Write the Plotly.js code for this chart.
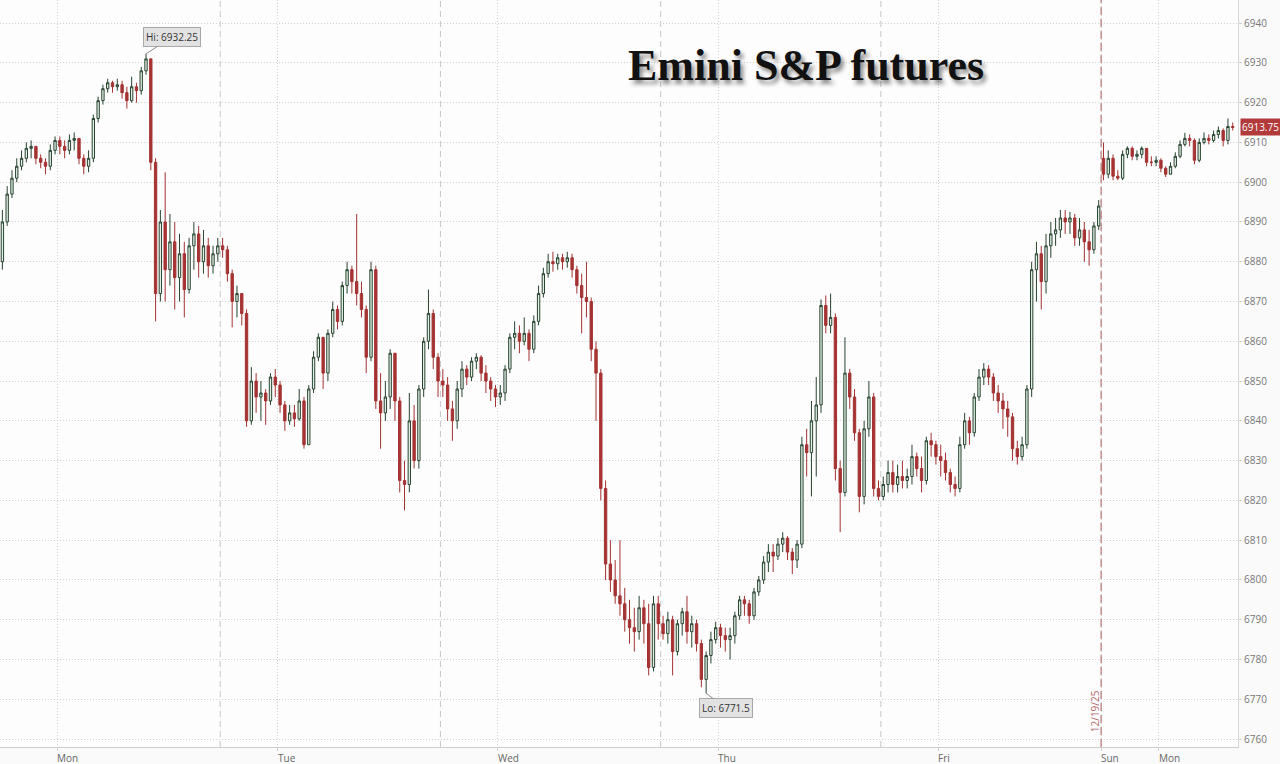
<!DOCTYPE html>
<html>
<head>
<meta charset="utf-8">
<script src="https://cdn.plot.ly/plotly-3.0.1.min.js"></script>
<style>
  html, body { margin: 0; padding: 0; background: #fafafa; }
  #chart { width: 1280px; height: 764px; }
</style>
</head>
<body>
<div id="chart"></div>
<script>
// ---- Data: 30-minute bars, Emini S&P futures (open = previous close) ----
const firstOpen = 6880;      // first bar open
const sundayOpen = 6906;     // gap open of the Sunday evening session

// Session 1 (Sun eve -> Mon)
const closeS1 = [6890,6897,6901,6904,6906,6908.5,6909,6906,6905,6904,6908,6910.5,6909,6908,6910.5,6911,6906,6904,6906,6916,6920.5,6923.5,6925,6924,6924.5,6922.5,6920.5,6924,6923,6928,6931,6905,6872,6890,6878,6885,6876,6882,6873,6884,6887,6880,6884,6879,6882,6884];
const highS1  = [6893,6899,6903,6906,6908,6910,6910.5,6909,6907,6906,6909.5,6911.5,6911.5,6910.5,6912,6912.5,6911,6907,6908,6917,6921.5,6924.5,6926,6925.5,6926,6925.5,6924,6926.5,6925,6929,6932.25,6931,6906,6893,6902.5,6892,6890,6887,6885,6886,6890,6889,6888,6886,6884,6886];
const lowS1   = [6878,6889,6896,6900,6903,6905,6906,6904.5,6903.5,6902,6903,6907,6907,6906,6907,6908,6904.5,6902,6902.5,6905,6915,6919.5,6922.5,6922.5,6923,6921,6918.5,6920,6920,6922,6927,6903,6865,6870,6870,6874,6868,6870,6866,6872,6878,6876,6877,6876,6877,6880];

// Session 2 (Tue)
const closeS2 = [6883,6877,6870,6872,6867,6840,6850,6846,6847,6845,6851,6849,6844,6840,6842,6840.5,6845,6834,6848,6856,6861,6852,6862,6868,6865,6874,6878,6875,6872,6868,6856,6878,6845,6842,6846,6857,6845,6825,6824,6840,6830,6848,6860,6867,6856,6850];
const highS2  = [6886,6884,6878,6874,6872,6868,6853.5,6852,6850,6848,6852,6853,6850,6845,6844,6844,6848,6846,6849,6857.5,6862,6861,6863,6870,6869,6875,6880,6879,6892,6875,6869,6880,6879,6852,6850,6858,6857,6846,6830,6847,6844,6849,6861,6873,6868,6857];
const lowS2   = [6881,6875,6863.5,6866,6864,6838.5,6839,6842,6840,6839,6844,6846,6842,6837.5,6839,6838.5,6840,6833,6834,6847,6855,6848,6850,6861,6863,6864,6872,6872,6869,6866,6852,6855,6843,6833,6840,6843,6840,6822,6817.5,6822,6828,6828,6846,6858,6853,6846];

// Session 3 (Wed)
const closeS3 = [6849,6843,6840,6848,6853,6851,6855,6856,6852,6850,6848,6846,6847,6853,6861,6862,6860,6862,6858,6865,6872,6877,6880,6879.5,6881,6880,6881,6878,6874,6871,6870,6858,6852,6823,6804,6800,6796,6794,6790,6788,6787,6793,6789,6778,6794,6789];
const highS3  = [6853,6851,6845,6850,6855,6854,6856,6857,6856.5,6854,6851,6849,6849,6854,6862,6865,6864,6866,6863,6866.5,6874,6878.5,6882,6882.5,6882,6882,6882.5,6882,6879,6877,6880,6871,6860,6853,6825,6810,6805,6810,6798,6795,6793,6796,6795,6794,6796,6796];
const lowS3   = [6846,6840,6835,6838,6846,6849,6850,6853,6850,6847,6845,6843.5,6844,6845,6852,6858,6857,6859,6855,6857,6864,6871,6876,6877.5,6878,6878,6878.5,6876,6872,6862,6866,6855,6840,6820,6800,6797,6794,6791,6787,6784,6782,6785,6784,6776,6777,6785];

// Session 4 (Thu)
const closeS4 = [6786.5,6790,6782,6789,6792,6787,6789,6784,6775,6781,6785,6788,6786,6785,6786,6791,6795,6794,6791,6797,6800,6804.5,6807,6806,6809,6810.5,6807,6805,6809,6834,6832,6840,6844,6869,6864,6866,6828,6822,6852,6846,6837,6821,6838,6846,6823,6821];
const highS4  = [6791,6792,6791,6790,6793,6796,6791,6790,6785,6782,6787,6789.5,6789,6788,6788,6792,6796,6796,6795,6798,6801,6806,6809,6809,6810.5,6812,6811,6808,6810,6836,6838,6845,6851,6870.5,6871.5,6872,6867,6830,6861,6853,6848,6838,6840,6850,6847,6825];
const lowS4   = [6785,6784,6776,6781,6786,6784,6783,6782,6773,6771.5,6779,6784,6783,6782,6780,6784,6790,6791,6789,6790,6796,6799,6802,6802,6805,6807,6805,6801.5,6803,6808,6826,6821,6826,6842,6862,6862,6825,6812,6821,6843,6835,6817,6819,6836,6821,6820];

// Session 5 (Fri)
const closeS5 = [6824,6827,6824,6826,6825,6826,6831,6828,6825,6835,6834,6831,6830,6827,6824,6823,6834,6840,6837,6846,6851,6853,6851,6847,6845,6843,6841,6833,6831,6834,6848,6878,6882,6875,6884,6887,6888,6891,6890,6891,6886,6888,6885,6883,6889,6894];
const highS5  = [6826,6830,6830,6829,6830,6828,6834,6832,6831,6836,6837,6835,6834,6832,6828,6826,6836,6842,6841,6847,6853,6854.5,6854,6852,6849,6847,6845,6842,6835,6836,6849,6880,6885,6884,6887,6890,6891,6893,6893,6892.5,6892,6891,6890,6888,6890,6895.5];
const lowS5   = [6820,6822,6822,6822,6823,6823,6824,6826,6822,6824,6831,6829,6826,6825,6822,6821,6822,6833,6834,6836,6845,6849,6849,6845,6842,6838,6836,6830,6829,6830,6833,6846,6870,6868,6872,6881,6884,6886,6887,6887,6884,6884,6880,6879,6882,6888];

// Session 6 (Sun eve -> Mon, 12/21/25)
const closeS6 = [6902,6906,6901.5,6901,6907,6908.5,6906.5,6907,6908.5,6905,6905,6905.5,6903.5,6902,6904,6906.5,6909.5,6911,6910.5,6905.5,6910,6911,6910.5,6912,6913,6910.5,6914,6913.75];
const highS6  = [6910,6908,6907,6903,6908,6909,6909,6908,6909,6908.5,6906.5,6906.5,6906,6904,6905,6907.5,6910.5,6912.4,6912,6911,6911,6912.5,6912,6913,6914,6913.5,6916,6915];
const lowS6   = [6900.5,6901,6900.5,6900.5,6900.5,6906,6905.5,6905.5,6906,6904,6904,6904,6902.5,6901.3,6902,6903.5,6906,6909,6909,6904.5,6905,6909.5,6909.5,6910,6911,6909,6909.5,6913];

// Axis labels
const dayLabels = ['Mon','Tue','Wed','Thu','Fri','Sun','Mon'];
const dayTickHours = [6, 29, 52, 75, 98, 115, 121];   // hours since first session open
const sessionBreaks = [23, 46, 69, 92];
const expiryBreak = 115;
const expiryLabel = '12/19/25';
const yTicks = [6760,6770,6780,6790,6800,6810,6820,6830,6840,6850,6860,6870,6880,6890,6900,6910,6920,6930,6940];
const lastPrice = 6913.75;

// ---- Build OHLC series ----
const sessions = [
  [closeS1, highS1, lowS1],
  [closeS2, highS2, lowS2],
  [closeS3, highS3, lowS3],
  [closeS4, highS4, lowS4],
  [closeS5, highS5, lowS5],
  [closeS6, highS6, lowS6]
];
const SESSION_HOURS = 23, BAR_HOURS = 0.5;
const X = [], O = [], H = [], L = [], C = [];
let prev = firstOpen;
sessions.forEach((s, si) => {
  const [cl, hi, lo] = s;
  cl.forEach((c, j) => {
    let o = prev;
    if (si === 5 && j === 0) o = sundayOpen;
    X.push(si * SESSION_HOURS + (j + 0.5) * BAR_HOURS);
    O.push(o); C.push(c);
    H.push(Math.max(hi[j], o, c));
    L.push(Math.min(lo[j], o, c));
    prev = c;
  });
});

let iHi = 0, iLo = 0;
H.forEach((v, i) => { if (v > H[iHi]) iHi = i; });
L.forEach((v, i) => { if (v < L[iLo]) iLo = i; });

const trace = {
  type: 'candlestick',
  x: X, open: O, high: H, low: L, close: C,
  increasing: { line: { color: '#27432f', width: 1 }, fillcolor: '#e2efe5' },
  decreasing: { line: { color: '#a33131', width: 1 }, fillcolor: '#a83333' },
  whiskerwidth: 0,
  hoverinfo: 'none',
  showlegend: false
};

const shapes = sessionBreaks.map(h => ({
  type: 'line', xref: 'x', yref: 'paper', x0: h, x1: h, y0: 0, y1: 1,
  line: { color: '#c6c6c6', width: 1, dash: '6px,4px' }, layer: 'below'
}));
shapes.push({
  type: 'line', xref: 'x', yref: 'paper', x0: expiryBreak, x1: expiryBreak, y0: 0, y1: 1,
  line: { color: '#a85a5a', width: 1, dash: '8px,4px' }, layer: 'above'
});

const annotations = dayLabels.map((t, i) => ({
  text: t, x: dayTickHours[i], xref: 'x', y: 0, yref: 'paper',
  xanchor: 'left', yanchor: 'top', yshift: -2, xshift: -2, showarrow: false,
  font: { family: 'Open Sans', size: 10, color: '#666' }
}));

annotations.push({
  text: 'Emini S&P futures', xref: 'paper', yref: 'paper', x: 0.651, y: 0.912,
  xanchor: 'center', yanchor: 'middle', showarrow: false,
  font: { family: 'Liberation Serif', size: 44, color: '#111', weight: 'bold',
          shadow: '3px 4px 4px rgba(0,0,0,0.45)' }
});

annotations.push({
  text: 'Hi: ' + H[iHi], x: X[iHi], y: H[iHi], xref: 'x', yref: 'y',
  showarrow: true, arrowhead: 0, arrowwidth: 1, arrowcolor: '#8a8a8a',
  ax: 26, ay: -17, bgcolor: '#e2e2e2', bordercolor: '#a8a8a8', borderwidth: 1, borderpad: 2,
  font: { family: 'Open Sans', size: 10, color: '#333' }
});
annotations.push({
  text: 'Lo: ' + L[iLo], x: X[iLo], y: L[iLo], xref: 'x', yref: 'y',
  showarrow: true, arrowhead: 0, arrowwidth: 1, arrowcolor: '#8a8a8a',
  ax: 20, ay: 15, bgcolor: '#e2e2e2', bordercolor: '#a8a8a8', borderwidth: 1, borderpad: 2,
  font: { family: 'Open Sans', size: 10, color: '#333' }
});
annotations.push({
  text: String(lastPrice), xref: 'paper', yref: 'y', x: 1, y: lastPrice,
  xanchor: 'left', yanchor: 'middle', xshift: 2, showarrow: false,
  bgcolor: '#b23a3a', borderpad: 1,
  font: { family: 'Open Sans', size: 10, color: '#fff' }
});
annotations.push({
  text: expiryLabel, xref: 'x', yref: 'paper', x: expiryBreak, y: 0.048,
  xanchor: 'center', yanchor: 'middle', xshift: -6, textangle: -90, showarrow: false,
  font: { family: 'Open Sans', size: 10, color: '#b06a6a' }
});

const layout = {
  width: 1280, height: 764,
  margin: { l: 0, r: 42, t: 0, b: 17 },
  paper_bgcolor: '#fafafa',
  plot_bgcolor: '#fdfdfd',
  xaxis: {
    type: 'linear', range: [0, 129.3],
    tickmode: 'array', tickvals: dayTickHours, showticklabels: false,
    showgrid: true, gridcolor: '#d2d2d2', griddash: '1px,2px', gridwidth: 1,
    showline: true, linecolor: '#cfcfcf', ticks: 'outside', ticklen: 3, tickcolor: '#cfcfcf',
    zeroline: false, rangeslider: { visible: false }, fixedrange: true
  },
  yaxis: {
    side: 'right', range: [6758, 6945.8],
    tickmode: 'array', tickvals: yTicks, ticktext: yTicks.map(String),
    showgrid: true, gridcolor: '#d2d2d2', griddash: '1px,2px', gridwidth: 1,
    showline: true, linecolor: '#d6d6d6', ticks: 'outside', ticklen: 3, tickcolor: '#cfcfcf',
    tickfont: { family: 'Open Sans', size: 10, color: '#777' },
    zeroline: false, fixedrange: true
  },
  shapes: shapes,
  annotations: annotations,
  showlegend: false
};

Plotly.newPlot('chart', [trace], layout, { displayModeBar: false, staticPlot: true });
</script>
</body>
</html>
